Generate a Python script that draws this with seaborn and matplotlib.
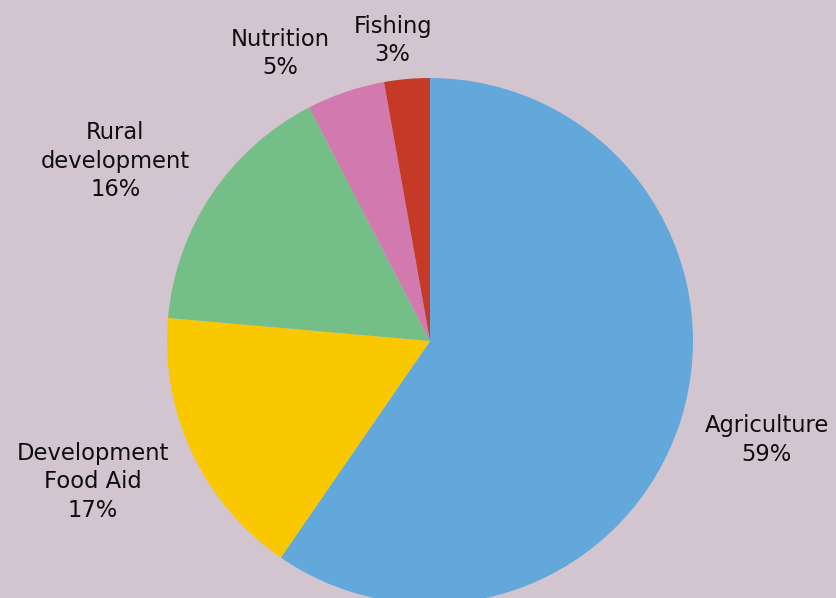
import numpy as np
import matplotlib
matplotlib.use("Agg")
import matplotlib.pyplot as plt
import seaborn as sns

# funding shares, clockwise from 12 o'clock
categories = ["Agriculture", "Development\nFood Aid", "Rural\ndevelopment", "Nutrition", "Fishing"]
shares = [59.6, 16.8, 16.0, 4.8, 2.8]      # slice sizes as drawn
pct_labels = [59, 17, 16, 5, 3]            # percentages printed on the chart
colors = ["#62A8DA", "#F9C800", "#74BE87", "#D27AAF", "#C53A26"]

# label placement: radius multiple and angle shift (deg) from slice middle
label_dist = [1.333, 1.386, 1.382, 1.238, 1.158]
label_shift = [1.2, -2.8, 3.8, 8.6, 2.0]

sns.set_theme(style="white")
plt.rcParams["font.family"] = ["DejaVu Sans"]

bg = "#D3C5CF"
fig = plt.figure(figsize=(8.36, 5.98), dpi=100, facecolor=bg)
ax = fig.add_axes([0, 0, 1, 1])
ax.set_facecolor(bg)

R = 263
wedges, _ = ax.pie(shares, colors=colors, startangle=90, counterclock=False,
                   radius=R, center=(0, 0), wedgeprops=dict(linewidth=0))

for w, name, pct, d, s in zip(wedges, categories, pct_labels, label_dist, label_shift):
    ang = np.deg2rad((w.theta1 + w.theta2) / 2 + s)
    ax.text(d * R * np.cos(ang), d * R * np.sin(ang) - 2, f"{name}\n{pct}%",
            ha="center", va="center", fontsize=16.3, color="#0d0d0d",
            linespacing=1.3)

ax.set_xlim(-430, 836 - 430)
ax.set_ylim(-(598 - 341), 341)
ax.set_aspect("equal")
ax.axis("off")

fig.savefig("out.png", dpi=100, facecolor=bg)
